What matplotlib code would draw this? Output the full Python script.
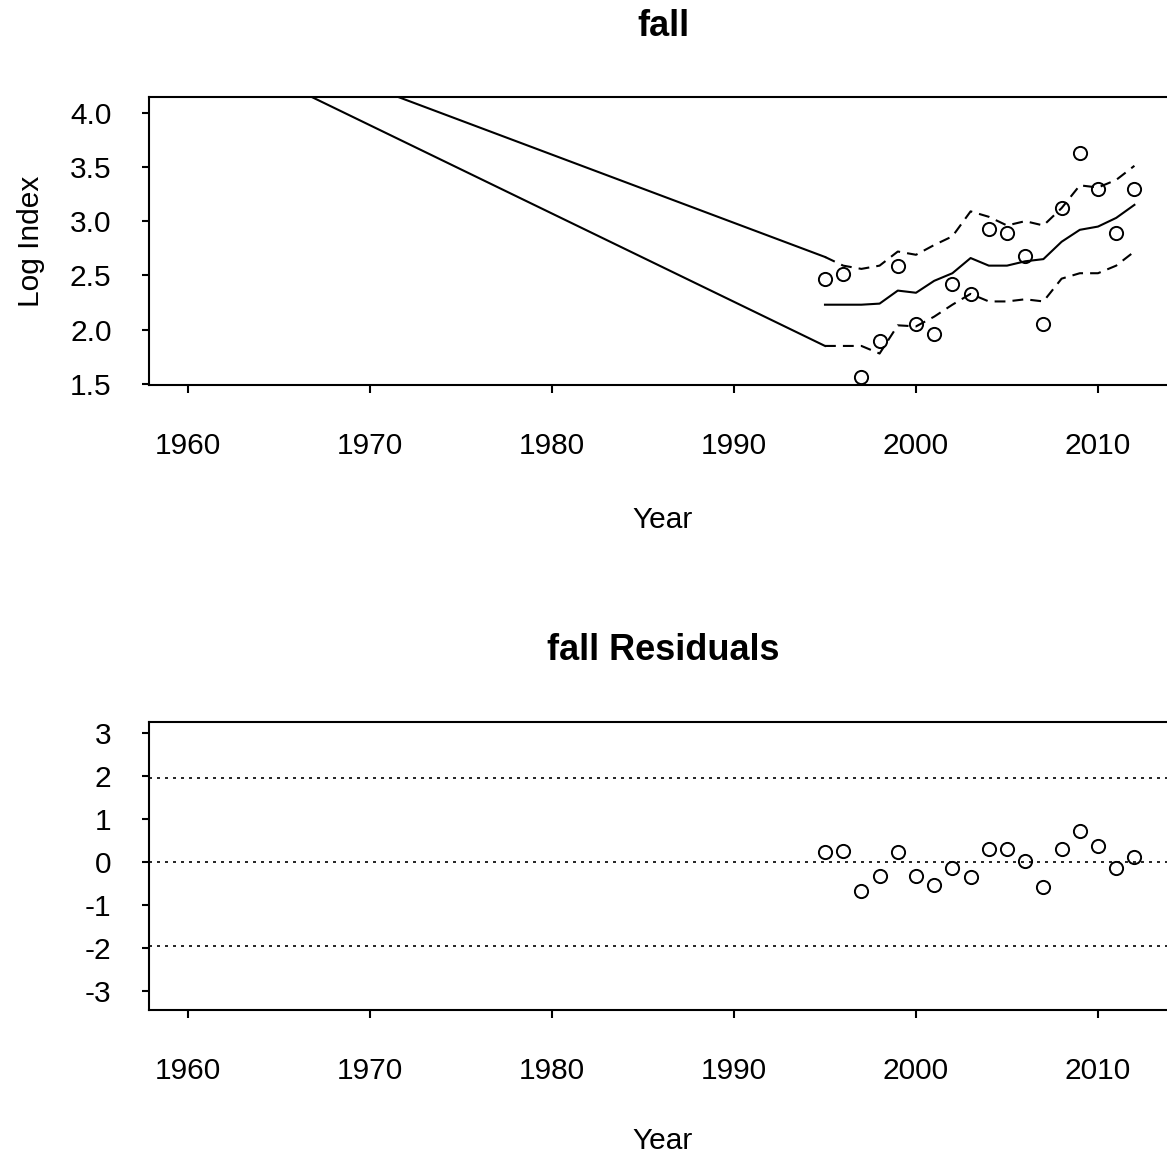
import matplotlib
matplotlib.use("Agg")
import matplotlib.pyplot as plt

plt.rcParams['font.family'] = ['Liberation Sans', 'DejaVu Sans']
plt.rcParams['axes.unicode_minus'] = False

# survey years and the fall log index
years = list(range(1995, 2013))
obs = [2.47, 2.51, 1.56, 1.90, 2.59, 2.05, 1.96, 2.42, 2.33,
       2.93, 2.89, 2.68, 2.05, 3.12, 3.63, 3.30, 2.89, 3.30]
fit = [2.23, 2.23, 2.23, 2.24, 2.36, 2.34, 2.45, 2.52, 2.66,
       2.59, 2.59, 2.63, 2.65, 2.81, 2.92, 2.95, 3.03, 3.15]
upper = [2.67, 2.59, 2.56, 2.59, 2.72, 2.69, 2.78, 2.86, 3.09,
         3.04, 2.96, 3.00, 2.96, 3.12, 3.33, 3.31, 3.38, 3.51]
lower = [1.85, 1.85, 1.85, 1.78, 2.04, 2.03, 2.12, 2.23, 2.33,
         2.26, 2.26, 2.28, 2.26, 2.47, 2.52, 2.52, 2.59, 2.72]
resid = [0.23, 0.26, -0.67, -0.32, 0.22, -0.32, -0.54, -0.14, -0.36,
         0.30, 0.30, 0.03, -0.58, 0.30, 0.71, 0.36, -0.14, 0.12]

# bounds carried back to the start of the series
early_year = 1958
early_upper = 4.996
early_lower = 4.86

xticks = [1960, 1970, 1980, 1990, 2000, 2010]
W, H = 1167, 1156
fs = 21.5
lw = 1.5
dash = (0, (5.2, 3.4))
dot = (0, (1.8, 3.0))


def style(ax, pad=33):
    ax.set_xlim(1957.86, 2014.34)
    ax.set_xticks(xticks)
    for s in ax.spines.values():
        s.set_linewidth(lw)
    ax.tick_params(axis='x', length=6, width=lw, pad=28, labelsize=fs)
    ax.tick_params(axis='y', length=5, width=lw, pad=22, labelsize=fs)
    ax.set_xlabel('Year', fontsize=fs, labelpad=pad)


fig = plt.figure(figsize=(W / 100, H / 100), dpi=100)

ax1 = fig.add_axes([149 / W, 1 - 385 / H, (1177 - 149) / W, (385 - 97) / H])
ax1.plot([early_year, years[0]], [early_upper, upper[0]], color='black', lw=lw)
ax1.plot([early_year, years[0]], [early_lower, lower[0]], color='black', lw=lw)
ax1.plot(years, upper, color='black', lw=lw, linestyle=dash)
ax1.plot(years, lower, color='black', lw=lw, linestyle=dash)
ax1.plot(years, fit, color='black', lw=lw)
ax1.plot(years, obs, 'o', mfc='none', mec='black', ms=9.5, mew=1.4)
ax1.set_ylim(1.49, 4.144)
ax1.set_yticks([1.5, 2.0, 2.5, 3.0, 3.5, 4.0])
ax1.set_yticklabels(['1.5', '2.0', '2.5', '3.0', '3.5', '4.0'])
ax1.set_ylabel('Log Index', fontsize=fs, labelpad=18)
style(ax1)
fig.text(663 / W, 1 - 26 / H, 'fall', fontsize=26, fontweight='bold',
         ha='center', va='center')

ax2 = fig.add_axes([149 / W, 1 - 1010 / H, (1177 - 149) / W, (1010 - 722) / H])
for yv in (1.96, 0, -1.96):
    ax2.axhline(yv, color='black', lw=1.2, linestyle=dot)
ax2.plot(years, resid, 'o', mfc='none', mec='black', ms=9.5, mew=1.4)
ax2.set_ylim(-3.45, 3.26)
ax2.set_yticks([-3, -2, -1, 0, 1, 2, 3])
style(ax2, pad=30)
fig.text(663 / W, 1 - 651 / H, 'fall Residuals', fontsize=26, fontweight='bold',
         ha='center', va='center')

fig.savefig('out.png', dpi=100)
